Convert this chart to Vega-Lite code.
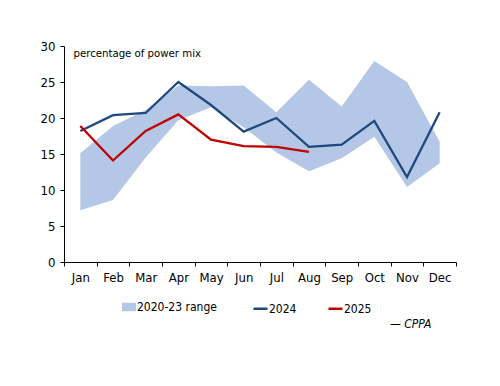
{
  "$schema": "https://vega.github.io/schema/vega-lite/v6.json",
  "width": 392,
  "height": 216,
  "autosize": {"type": "none"},
  "padding": {"left": 64, "top": 46, "right": 44, "bottom": 124},
  "background": "white",
  "config": {
    "view": {"stroke": null},
    "font": "DejaVu Sans Condensed",
    "axis": {"labelFont": "DejaVu Sans Condensed", "titleFont": "DejaVu Sans Condensed", "labelColor": "black", "titleColor": "black", "domainColor": "black", "tickColor": "black", "grid": false, "tickSize": 4, "labelFontSize": 13},
    "legend": {"labelFont": "DejaVu Sans Condensed", "labelFontSize": 12, "labelColor": "black", "padding": 0}
  },
  "datasets": {
    "range": [
      {"month": "Jan", "lo": 7.2, "hi": 15.1},
      {"month": "Feb", "lo": 8.6, "hi": 18.9},
      {"month": "Mar", "lo": 14.5, "hi": 21.1},
      {"month": "Apr", "lo": 19.7, "hi": 24.5},
      {"month": "May", "lo": 21.5, "hi": 24.4},
      {"month": "Jun", "lo": 18.7, "hi": 24.5},
      {"month": "Jul", "lo": 15.2, "hi": 20.8},
      {"month": "Aug", "lo": 12.6, "hi": 25.3},
      {"month": "Sep", "lo": 14.4, "hi": 21.6},
      {"month": "Oct", "lo": 17.4, "hi": 27.9},
      {"month": "Nov", "lo": 10.4, "hi": 25.0},
      {"month": "Dec", "lo": 13.7, "hi": 16.7}
    ],
    "lines": [
      {"month": "Jan", "series": "2024", "value": 18.2},
      {"month": "Feb", "series": "2024", "value": 20.4},
      {"month": "Mar", "series": "2024", "value": 20.7},
      {"month": "Apr", "series": "2024", "value": 25.0},
      {"month": "May", "series": "2024", "value": 21.8},
      {"month": "Jun", "series": "2024", "value": 18.1},
      {"month": "Jul", "series": "2024", "value": 20.0},
      {"month": "Aug", "series": "2024", "value": 16.0},
      {"month": "Sep", "series": "2024", "value": 16.3},
      {"month": "Oct", "series": "2024", "value": 19.6},
      {"month": "Nov", "series": "2024", "value": 11.8},
      {"month": "Dec", "series": "2024", "value": 20.8},
      {"month": "Jan", "series": "2025", "value": 18.9},
      {"month": "Feb", "series": "2025", "value": 14.1},
      {"month": "Mar", "series": "2025", "value": 18.2},
      {"month": "Apr", "series": "2025", "value": 20.5},
      {"month": "May", "series": "2025", "value": 17.0},
      {"month": "Jun", "series": "2025", "value": 16.1},
      {"month": "Jul", "series": "2025", "value": 16.0},
      {"month": "Aug", "series": "2025", "value": 15.3}
    ]
  },
  "encoding": {
    "x": {
      "field": "month",
      "type": "ordinal",
      "bandPosition": 0.5,
      "sort": ["Jan","Feb","Mar","Apr","May","Jun","Jul","Aug","Sep","Oct","Nov","Dec"],
      "scale": {"type": "band", "paddingInner": 0, "paddingOuter": 0},
      "axis": {
        "labelAngle": 0,
        "tickBand": "extent",
        "labelPadding": 5,
        "title": "— CPPA",
        "titleX": 367,
        "titleY": 61,
        "titleAlign": "right",
        "titleBaseline": "middle",
        "titleFontStyle": "italic",
        "titleFontWeight": "normal",
        "titleFontSize": 12
      }
    }
  },
  "layer": [
    {
      "data": {"name": "range"},
      "mark": {"type": "area", "opacity": 1},
      "encoding": {
        "y": {
          "field": "lo",
          "type": "quantitative",
          "scale": {"domain": [0, 30]},
          "axis": {
            "values": [0, 5, 10, 15, 20, 25, 30],
            "labelOverlap": false,
            "labelPadding": 5,
            "title": "percentage of power mix",
            "titleAngle": 0,
            "titleX": 9,
            "titleY": 7,
            "titleAlign": "left",
            "titleBaseline": "middle",
            "titleFontWeight": "normal",
            "titleFontSize": 11.3
          }
        },
        "y2": {"field": "hi"},
        "fill": {
          "datum": "2020-23 range",
          "scale": {"domain": ["2020-23 range"], "range": ["#b4c7e7"]},
          "legend": {
            "title": null,
            "orient": "none",
            "legendX": 58,
            "legendY": 254,
            "symbolType": "M-1,-0.6H1V0.6H-1Z",
            "symbolSize": 196,
            "symbolStrokeWidth": 0,
            "symbolOpacity": 1,
            "labelOffset": 1
          }
        }
      }
    },
    {
      "data": {"name": "lines"},
      "mark": {"type": "line", "strokeWidth": 2.3},
      "encoding": {
        "y": {
          "field": "value",
          "type": "quantitative",
          "scale": {"domain": [0, 30]},
          "axis": {
            "values": [0, 5, 10, 15, 20, 25, 30],
            "labelOverlap": false,
            "labelPadding": 5,
            "title": "percentage of power mix",
            "titleAngle": 0,
            "titleX": 9,
            "titleY": 7,
            "titleAlign": "left",
            "titleBaseline": "middle",
            "titleFontWeight": "normal",
            "titleFontSize": 11.3
          }
        },
        "stroke": {
          "field": "series",
          "type": "nominal",
          "scale": {"domain": ["2024", "2025"], "range": ["#1f497d", "#c00000"]},
          "legend": {
            "title": null,
            "orient": "none",
            "direction": "horizontal",
            "legendX": 188,
            "legendY": 254,
            "symbolType": "stroke",
            "symbolSize": 196,
            "symbolStrokeWidth": 2.5,
            "columnPadding": 26,
            "labelOffset": 0
          }
        }
      }
    }
  ]
}
